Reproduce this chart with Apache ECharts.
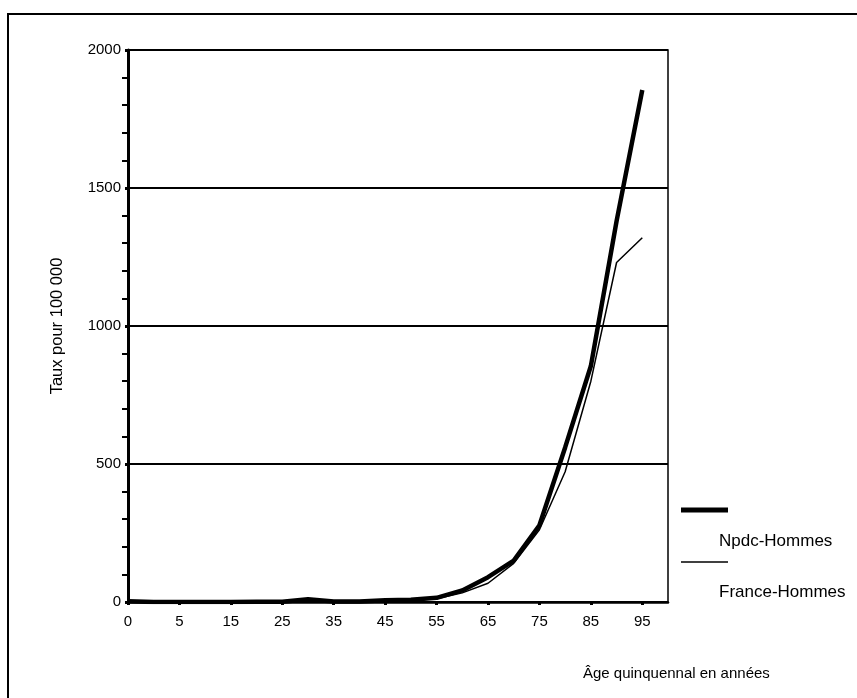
<!DOCTYPE html>
<html>
<head>
<meta charset="utf-8">
<script src="https://cdn.jsdelivr.net/npm/echarts@6/dist/echarts.min.js"></script>
<style>
  html, body { margin: 0; padding: 0; background: #fff; }
  #chart { width: 857px; height: 698px; }
</style>
</head>
<body>
<div id="chart"></div>
<script>
// Age groups (quinquennial); the trailing blank slot leaves room after 95
const ageGroups = ['0', '1', '5', '10', '15', '20', '25', '30', '35', '40', '45',
                   '50', '55', '60', '65', '70', '75', '80', '85', '90', '95', ''];

// Rates per 100 000
const npdcHommes   = [3, 0, 0, 0, 0, 1, 1, 10, 2, 2, 6, 8, 15, 42, 90, 150, 278, 560, 855, 1380, 1855, null];
const franceHommes = [2, 0, 0, 0, 0, 1, 1, 3, 2, 2, 4, 6, 12, 33, 68, 140, 262, 472, 800, 1230, 1320, null];

const seriesNames = ['Npdc-Hommes', 'France-Hommes'];
const yTicks = { min: 0, max: 2000, interval: 500 };

const FONT = 'Liberation Sans, Arial, sans-serif';

const chart = echarts.init(document.getElementById('chart'), null, { renderer: 'canvas' });

chart.setOption({
  animation: false,
  backgroundColor: '#fff',
  grid: {
    left: 128, top: 50, right: 189, bottom: 96,
    show: true, borderColor: '#000', borderWidth: 1.5, backgroundColor: 'transparent'
  },
  xAxis: {
    type: 'category',
    data: ageGroups,
    boundaryGap: false,
    axisLine: { lineStyle: { color: '#000', width: 2.5 } },
    axisTick: { show: true, interval: 1, length: 3, lineStyle: { color: '#000', width: 3 } },
    axisLabel: { interval: 1, color: '#000', fontFamily: FONT, fontSize: 15, margin: 12 }
  },
  yAxis: {
    type: 'value',
    min: yTicks.min, max: yTicks.max, interval: yTicks.interval,
    name: 'Taux pour 100 000',
    nameLocation: 'middle',
    nameGap: 62,
    nameTextStyle: { color: '#000', fontFamily: FONT, fontSize: 16.5 },
    axisLine: { show: true, lineStyle: { color: '#000', width: 3 } },
    axisTick: { show: true, length: 3, lineStyle: { color: '#000', width: 3 } },
    minorTick: { show: true, splitNumber: 5, length: 6, lineStyle: { color: '#000', width: 2 } },
    axisLabel: {
      color: '#000', fontFamily: FONT, fontSize: 15, margin: 7,
      formatter: v => String(v)
    },
    splitLine: { show: true, lineStyle: { color: '#000', width: 2 } }
  },
  series: [
    {
      name: seriesNames[0], type: 'line', data: npdcHommes,
      symbol: 'none', z: 3,
      lineStyle: { color: '#000', width: 4.5 }
    },
    {
      name: seriesNames[1], type: 'line', data: franceHommes,
      symbol: 'none', z: 4,
      lineStyle: { color: '#000', width: 1.5 }
    }
  ],
  graphic: [
    // outer frame
    { type: 'rect', shape: { x: 8, y: 14, width: 880, height: 720 },
      style: { fill: 'none', stroke: '#000', lineWidth: 2 }, silent: true },
    // legend
    { type: 'line', shape: { x1: 681, y1: 510, x2: 728, y2: 510 },
      style: { stroke: '#000', lineWidth: 5 } },
    { type: 'text', left: 719, top: 533,
      style: { text: seriesNames[0], fill: '#000', font: '17px ' + FONT } },
    { type: 'line', shape: { x1: 681, y1: 562, x2: 728, y2: 562 },
      style: { stroke: '#000', lineWidth: 1.5 } },
    { type: 'text', left: 719, top: 584,
      style: { text: seriesNames[1], fill: '#000', font: '17px ' + FONT } },
    // x-axis title
    { type: 'text', left: 583, top: 666,
      style: { text: 'Âge quinquennal en années', fill: '#000', font: '15px ' + FONT } }
  ]
});
</script>
</body>
</html>
